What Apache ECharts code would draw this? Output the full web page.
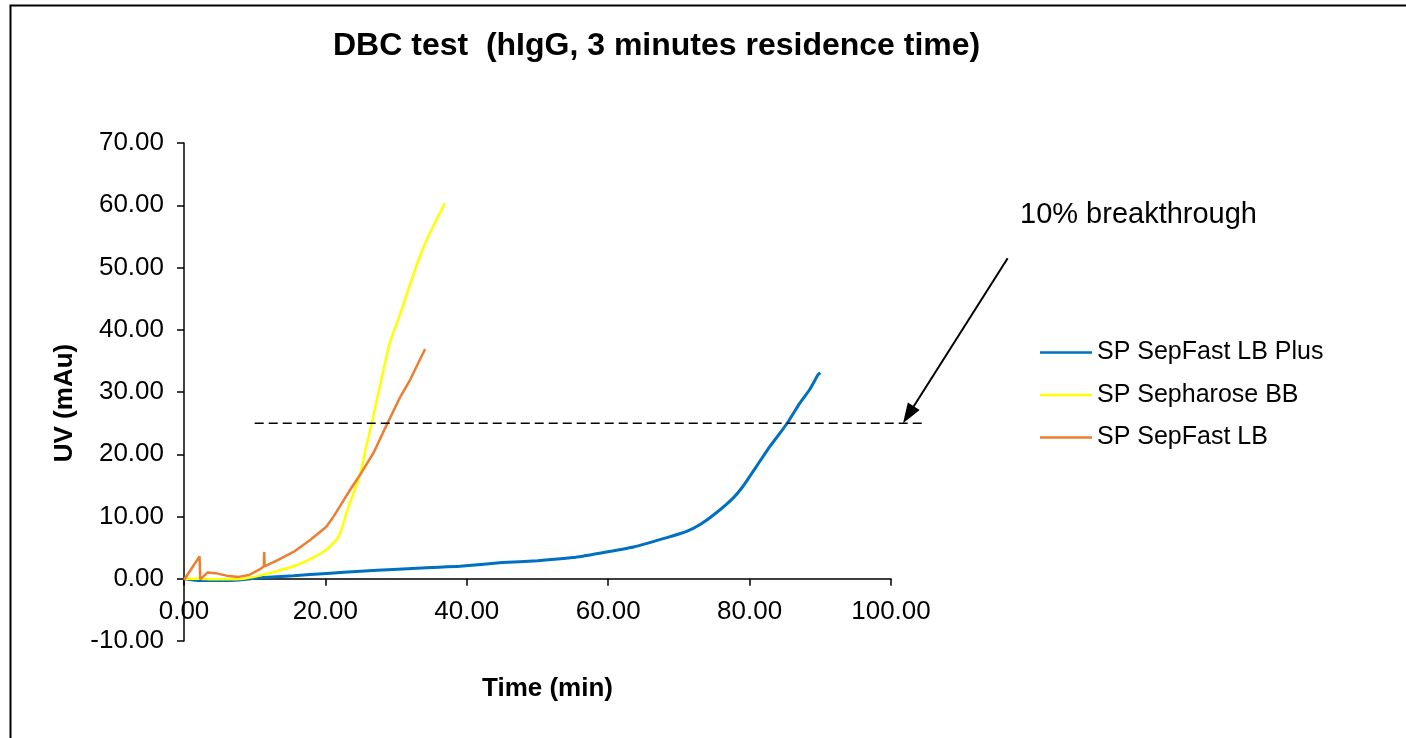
<!DOCTYPE html>
<html>
<head>
<meta charset="utf-8">
<title>DBC test</title>
<script src="https://cdn.jsdelivr.net/npm/echarts@6/dist/echarts.min.js"></script>
<style>
  html, body { margin: 0; padding: 0; background: #fff; }
  #chart { width: 1406px; height: 738px; }
</style>
</head>
<body>
<div id="chart"></div>
<script>
  // values, [time (min), UV (mAu)]
  var seriesNames = ['SP SepFast LB Plus', 'SP Sepharose BB', 'SP SepFast LB'];

  var lbPlusData = [
    [0, 0], [2.3, -0.3], [5, -0.3], [7.9, -0.2], [10.7, 0.15], [15.5, 0.5], [20.2, 0.85],
    [25, 1.2], [29.6, 1.5], [35, 1.8], [39, 2.0], [45, 2.6], [50, 2.9], [55, 3.4],
    [58.8, 4.1], [63.6, 5.1], [68.3, 6.6], [71.1, 7.6], [73, 8.7], [75.3, 10.6],
    [77.7, 13.0], [79.1, 14.9], [81, 18.1], [82.9, 21.3], [84.3, 23.4], [85.5, 25.3],
    [87.1, 28.2], [88.5, 30.4], [89.7, 32.8], [90, 33.1]
  ];

  var sepharoseData = [
    [0, 0], [2.3, 0], [4, -0.1], [6, -0.1], [8.4, 0], [10.7, 0.5], [13.1, 1.2],
    [15.5, 2.0], [17.8, 3.1], [20.2, 4.7], [21.6, 6.3], [22.3, 8.0], [23.0, 10.6],
    [23.9, 13.5], [24.9, 16.7], [25.8, 21.3], [26.5, 24.7], [27.7, 30.9], [29.1, 37.8],
    [30.6, 42.6], [32.2, 48.0], [33.6, 52.5], [35.2, 56.5], [36.9, 60.3]
  ];

  var lbData = [
    [0, -0.2], [2.2, 3.6], [2.3, -0.1], [3.3, 1.0], [4.5, 0.9], [6.0, 0.5], [7.7, 0.3],
    [9.2, 0.6], [10.7, 1.5], [11.3, 2.0], [11.35, 4.3], [11.4, 2.0], [13.1, 2.9],
    [15.5, 4.3], [17.8, 6.2], [20.1, 8.3], [21.1, 9.9], [22.2, 11.9], [23.5, 14.3],
    [24.9, 16.7], [26.8, 20.2], [28.7, 24.8], [30.5, 29.0], [32.0, 32.0], [34.1, 36.9]
  ];

  // 10% breakthrough: dashed level and the arrow pointing at its end (data coords)
  var thresholdLine = [[10, 25], [104.4, 25]];
  var arrowTail = [116.5, 51.5];
  var arrowTip = [101.7, 25];

  var colors = ['#0070C0', '#FFFF00', '#ED7D31'];
  var baseFont = 'Liberation Sans, Arial, sans-serif';

  var chart = echarts.init(document.getElementById('chart'));

  function curve(name, data, color, smooth) {
    return {
      name: name,
      type: 'line',
      data: data,
      symbol: 'none',
      smooth: smooth,
      lineStyle: { color: color, width: 2.5 },
      itemStyle: { color: color },
      z: 3
    };
  }

  var blue = curve(seriesNames[0], lbPlusData, colors[0], 0.15);
  blue.lineStyle.width = 3;

  var option = {
    animation: false,
    backgroundColor: '#fff',
    textStyle: { fontFamily: baseFont },
    title: {
      text: 'DBC test  (hIgG, 3 minutes residence time)',
      left: 328,
      top: 25,
      textStyle: { fontFamily: baseFont, fontSize: 32, fontWeight: 'bold', color: '#000' }
    },
    graphic: [
      {
        id: 'frame',
        type: 'rect',
        left: 8, top: 3,
        shape: { width: 1420, height: 760 },
        style: { fill: 'none', stroke: '#000', lineWidth: 2 },
        silent: true
      },
      {
        id: 'note',
        type: 'text',
        left: 1020, top: 200,
        style: { text: '10% breakthrough', fill: '#000', font: '29px ' + baseFont }
      }
    ],
    legend: {
      orient: 'vertical',
      left: 1040,
      top: 340,
      padding: 0,
      data: seriesNames,
      icon: 'rect',
      itemWidth: 52,
      itemHeight: 2.5,
      itemGap: 17.5,
      textStyle: { fontFamily: baseFont, fontSize: 25, color: '#000' }
    },
    grid: { left: 184, right: 515, top: 143, bottom: 97, outerBoundsMode: 'none' },
    xAxis: {
      type: 'value',
      min: 0,
      max: 100,
      interval: 20,
      name: 'Time (min)',
      nameLocation: 'middle',
      nameGap: 35,
      nameMoveOverlap: false,
      nameTextStyle: { fontFamily: baseFont, fontSize: 26, fontWeight: 'bold', color: '#000', padding: [0, 0, 0, 20] },
      axisLine: { onZero: true, lineStyle: { color: '#000', width: 1.5 } },
      axisTick: { length: 7, lineStyle: { color: '#000', width: 1.5 } },
      axisLabel: {
        margin: -42,
        color: '#000',
        fontSize: 26,
        fontFamily: baseFont,
        formatter: function (v) { return v.toFixed(2); }
      },
      splitLine: { show: false }
    },
    yAxis: {
      type: 'value',
      min: -10,
      max: 70,
      interval: 10,
      name: 'UV (mAu)',
      nameLocation: 'middle',
      nameGap: 106,
      nameMoveOverlap: false,
      nameTextStyle: { fontFamily: baseFont, fontSize: 26, fontWeight: 'bold', color: '#000', padding: [0, 22, 0, 0] },
      axisLine: { show: true, lineStyle: { color: '#000', width: 1.5 } },
      axisTick: { show: true, length: 7, lineStyle: { color: '#000', width: 1.5 } },
      axisLabel: {
        margin: 20,
        color: '#000',
        fontSize: 26,
        fontFamily: baseFont,
        formatter: function (v) { return v.toFixed(2); }
      },
      splitLine: { show: false }
    },
    series: [
      blue,
      curve(seriesNames[1], sepharoseData, colors[1], 0.15),
      curve(seriesNames[2], lbData, colors[2], false)
    ]
  };

  chart.setOption(option);

  // the annotation runs past the x axis max, so place it through the axes' scale
  function px(p) { return chart.convertToPixel({ gridIndex: 0 }, p); }
  var a = px(thresholdLine[0]), b = px(thresholdLine[1]);
  var tail = px(arrowTail), tip = px(arrowTip);
  var dx = tip[0] - tail[0], dy = tip[1] - tail[1];
  var len = Math.sqrt(dx * dx + dy * dy);
  var ux = dx / len, uy = dy / len;
  var headLen = 20, headHalf = 7;
  var bx = tip[0] - ux * headLen, by = tip[1] - uy * headLen;

  chart.setOption({
    graphic: [
      {
        id: 'threshold',
        type: 'line',
        silent: true,
        z: 10,
        shape: { x1: a[0], y1: a[1], x2: b[0], y2: b[1] },
        style: { stroke: '#000', lineWidth: 1.5, lineDash: [9, 5] }
      },
      {
        id: 'arrowShaft',
        type: 'line',
        silent: true,
        z: 10,
        shape: { x1: tail[0], y1: tail[1], x2: bx + ux * 2, y2: by + uy * 2 },
        style: { stroke: '#000', lineWidth: 2 }
      },
      {
        id: 'arrowHead',
        type: 'polygon',
        silent: true,
        z: 10,
        shape: {
          points: [
            [tip[0], tip[1]],
            [bx - uy * headHalf, by + ux * headHalf],
            [bx + uy * headHalf, by - ux * headHalf]
          ]
        },
        style: { fill: '#000' }
      }
    ]
  });
</script>
</body>
</html>
